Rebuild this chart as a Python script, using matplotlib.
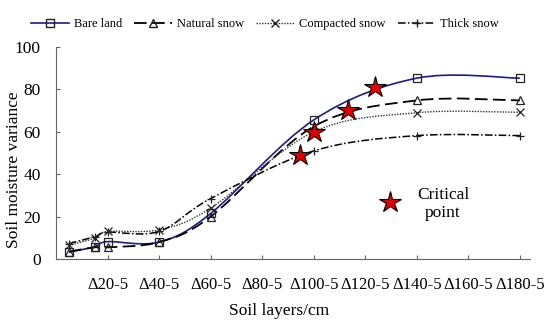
import numpy as np
import matplotlib.pyplot as plt
from matplotlib.path import Path
from matplotlib.patches import PathPatch
from matplotlib.lines import Line2D

plt.rcParams['font.family'] = ['Liberation Serif', 'DejaVu Serif']

# layer positions (1 = Δ20-5, 2 = Δ40-5, ...)
x = [0.25, 0.75, 1, 2, 3, 5, 7, 9]
bare = [3.2, 5.8, 8.2, 8.0, 21.5, 65.6, 85.3, 85.3]
natural = [3.5, 5.5, 5.5, 8.0, 20.0, 62.5, 74.8, 74.8]
compacted = [6.5, 9.8, 13.0, 13.8, 24.0, 60.0, 69.0, 69.2]
thick = [7.3, 10.5, 12.6, 13.0, 28.5, 51.0, 58.2, 58.2]

crit_x = [6.18, 5.66, 5.0, 4.73]
crit_y = [81.0, 70.5, 60.0, 49.0]

ticklabels = ['Δ20-5', 'Δ40-5', 'Δ60-5', 'Δ80-5', 'Δ100-5', 'Δ120-5',
              'Δ140-5', 'Δ160-5', 'Δ180-5']


def smooth_path(xs, ys):
    # Catmull-Rom style bezier, like spreadsheet "smoothed line"
    p = np.column_stack([xs, ys])
    verts = [p[0]]
    codes = [Path.MOVETO]
    n = len(p)
    for i in range(n - 1):
        p0 = p[i - 1] if i > 0 else p[i]
        p3 = p[i + 2] if i + 2 < n else p[i + 1]
        c1 = p[i] + (p[i + 1] - p0) / 6
        c2 = p[i + 1] - (p3 - p[i]) / 6
        verts += [c1, c2, p[i + 1]]
        codes += [Path.CURVE4] * 3
    return Path(verts, codes)


fig = plt.figure(figsize=(5.5, 3.31), dpi=100)
ax = fig.add_axes([0.102, 0.2175, 0.862, 0.6405])

series = [
    (bare, 'Bare land', '#1c1c8a', '-', 's', 1.2),
    (natural, 'Natural snow', 'black', (0, (7, 3)), '^', 1.3),
    (compacted, 'Compacted snow', '#333333', (0, (1, 1)), 'x', 1.0),
    (thick, 'Thick snow', 'black', (0, (5, 1.5, 1, 1.5)), '+', 1.1),
]
handles = []
for ys, name, col, ls, mk, lw in series:
    ax.add_patch(PathPatch(smooth_path(x, ys), facecolor='none', edgecolor=col,
                           linestyle=ls, linewidth=lw))
    ax.plot(x, ys, linestyle='none', marker=mk, markersize=5.5,
            markerfacecolor='none', markeredgecolor='#222222', markeredgewidth=0.9)
    handles.append(Line2D([], [], color=col, linestyle=ls, linewidth=lw, marker=mk,
                          markersize=5.5, markerfacecolor='none',
                          markeredgecolor='#222222'))

ax.plot(crit_x, crit_y, linestyle='none', marker='*', markersize=16,
        markerfacecolor='#e00000', markeredgecolor='black', markeredgewidth=0.8)
ax.plot([6.47], [27], marker='*', markersize=16,
        markerfacecolor='#e00000', markeredgecolor='black', markeredgewidth=0.8)
ax.text(7.51, 26, 'Critical\npoint', fontsize=12.5, ha='center', va='center',
        linespacing=1.15)

ax.set_xlim(0, 9.2)
ax.set_ylim(0, 100)
ax.set_xticks(range(1, 10))
ax.set_xticklabels(ticklabels)
ax.set_yticks(range(0, 101, 20))
for s in ['top', 'right']:
    ax.spines[s].set_visible(False)
for s in ['left', 'bottom']:
    ax.spines[s].set_color('#666666')
ax.tick_params(direction='in', length=3, color='#666666', labelsize=12.5)
ax.tick_params(axis='x', labelsize=12, pad=13)
ax.tick_params(axis='y', pad=11)
ax.set_xlabel('Soil layers/cm', fontsize=12.5, va='center')
ax.xaxis.set_label_coords(0.47, -0.245)
ax.set_ylabel('Soil moisture variance', fontsize=12.5, va='center')
ax.yaxis.set_label_coords(-0.089, 0.42)

fig.legend(handles=handles, labels=[s[1] for s in series],
           loc='center', bbox_to_anchor=(0.482, 0.927), ncol=4, frameon=False,
           fontsize=9, handlelength=3.0, columnspacing=1.0, handletextpad=0.4)

fig.savefig('out.png', dpi=100)
